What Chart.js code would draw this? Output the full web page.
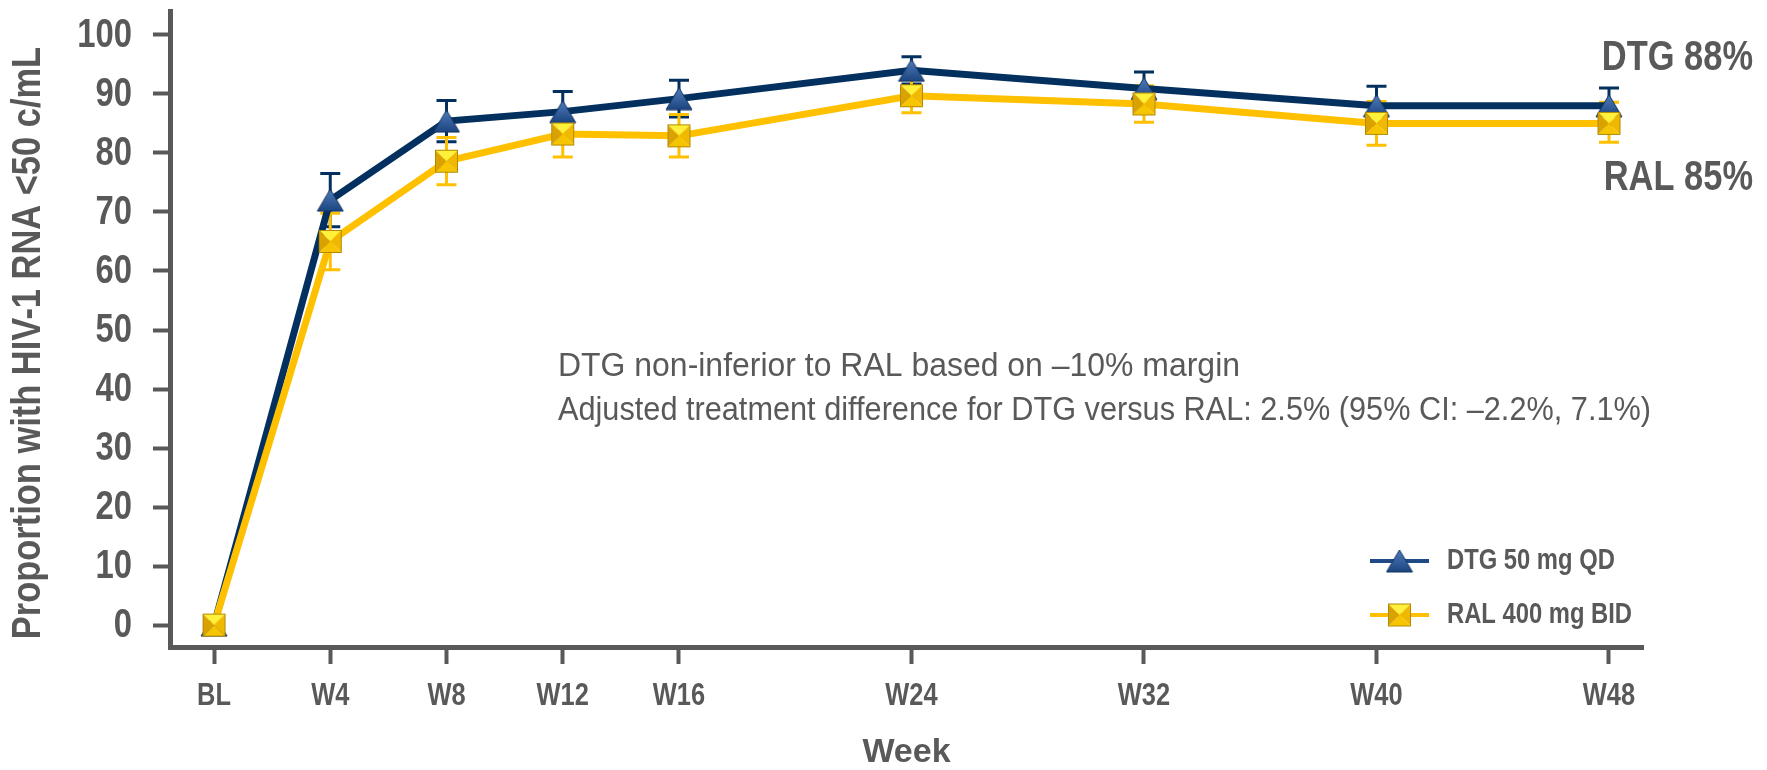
<!DOCTYPE html>
<html>
<head>
<meta charset="utf-8">
<script src="https://cdn.jsdelivr.net/npm/chart.js@4.4.1/dist/chart.umd.min.js"></script>
<style>
  html, body { margin: 0; padding: 0; background: #ffffff; }
  #wrap { width: 1767px; height: 770px; }
</style>
</head>
<body>
<div id="wrap"><canvas id="chart" width="1767" height="770"></canvas></div>
<script>
// Study visits (weeks from baseline) and their axis labels
const weeks = [0, 4, 8, 12, 16, 24, 32, 40, 48];
const weekLabels = ['BL', 'W4', 'W8', 'W12', 'W16', 'W24', 'W32', 'W40', 'W48'];
const yTickValues = [0, 10, 20, 30, 40, 50, 60, 70, 80, 90, 100];

// Proportion with HIV-1 RNA <50 c/mL (%), with 95% CI bounds
const dtgValues = [0, 72, 85.4, 87, 89.2, 94, 90.9, 88, 88];
const dtgLower  = [0, 67.5, 81.9, 83.6, 86.1, 91.7, 88.1, 84.7, 84.8];
const dtgUpper  = [0, 76.5, 88.9, 90.4, 92.3, 96.3, 93.7, 91.3, 91.0];

const ralValues = [0, 65, 78.6, 83.2, 82.9, 89.7, 88.3, 85, 85];
const ralLower  = [0, 60.2, 74.6, 79.3, 79.3, 86.8, 85.2, 81.3, 81.8];
const ralUpper  = [0, 69.8, 82.6, 87.1, 86.5, 92.6, 91.4, 88.7, 88.6];

const seriesNames = ['DTG 50 mg QD', 'RAL 400 mg BID'];
const endLabels = ['DTG 88%', 'RAL 85%'];
const noteLines = [
  'DTG non-inferior to RAL based on \u201310% margin',
  'Adjusted treatment difference for DTG versus RAL: 2.5% (95% CI: \u20132.2%, 7.1%)'
];

const GREY = '#595959';
const NAVY = '#04305f';
const GOLD = '#ffc000';
const SANS = '"Liberation Sans", Arial, sans-serif';
const NARROW_X = 0.82;   // horizontal squeeze giving a condensed face

// Condensed text: draws str squeezed horizontally around its anchor
function narrowText(ctx, str, x, y, font, align, sx) {
  ctx.save();
  ctx.font = font;
  ctx.textAlign = align;
  ctx.textBaseline = 'middle';
  ctx.translate(x, y);
  ctx.scale(sx, 1);
  ctx.fillText(str, 0, 0);
  ctx.restore();
}

// Shaded triangle marker
function makeTriangle() {
  const c = document.createElement('canvas');
  c.width = 28; c.height = 24;
  const g = c.getContext('2d');
  const grad = g.createLinearGradient(0, 1, 0, 23);
  grad.addColorStop(0, '#4f7dbb');
  grad.addColorStop(1, '#1c4580');
  g.beginPath();
  g.moveTo(14, 1); g.lineTo(27, 23); g.lineTo(1, 23); g.closePath();
  g.fillStyle = grad; g.fill();
  g.lineWidth = 1; g.strokeStyle = '#12335f'; g.stroke();
  return c;
}

// Bevelled square marker
function makeSquare() {
  const c = document.createElement('canvas');
  c.width = 25; c.height = 25;
  const g = c.getContext('2d');
  const a = 1, b = 24, m = 12.5;
  const tri = (pts, col) => {
    g.beginPath(); g.moveTo(pts[0][0], pts[0][1]);
    for (let i = 1; i < pts.length; i++) g.lineTo(pts[i][0], pts[i][1]);
    g.closePath(); g.fillStyle = col; g.fill();
  };
  tri([[a, a], [b, a], [m, m]], '#fff03a');
  tri([[b, a], [b, b], [m, m]], '#f0b800');
  tri([[b, b], [a, b], [m, m]], '#f6c500');
  tri([[a, b], [a, a], [m, m]], '#d9a200');
  g.lineWidth = 1; g.strokeStyle = '#b58a00';
  g.strokeRect(a + 0.5, a + 0.5, b - a - 1, b - a - 1);
  return c;
}

const triMarker = makeTriangle();
const sqMarker = makeSquare();

const toPoints = vals => weeks.map((w, i) => ({ x: w, y: vals[i] }));

// Confidence-interval whiskers, drawn under the lines and markers
const errorBars = {
  id: 'errorBars',
  beforeDatasetsDraw(chart) {
    const { ctx, scales: { x, y } } = chart;
    const sets = [
      { lo: dtgLower, hi: dtgUpper, color: NAVY },
      { lo: ralLower, hi: ralUpper, color: GOLD }
    ];
    ctx.save();
    ctx.lineWidth = 3;
    sets.forEach(s => {
      ctx.strokeStyle = s.color;
      weeks.forEach((w, i) => {
        if (s.hi[i] === s.lo[i]) return;
        const px = x.getPixelForValue(w);
        const y1 = y.getPixelForValue(s.lo[i]);
        const y2 = y.getPixelForValue(s.hi[i]);
        ctx.beginPath();
        ctx.moveTo(px, y1); ctx.lineTo(px, y2);
        ctx.moveTo(px - 10, y1); ctx.lineTo(px + 10, y1);
        ctx.moveTo(px - 10, y2); ctx.lineTo(px + 10, y2);
        ctx.stroke();
      });
    });
    ctx.restore();
  }
};

// Tick labels, axis title, notes, end labels and legend
const overlay = {
  id: 'overlay',
  afterDraw(chart) {
    const { ctx, scales: { x, y } } = chart;
    ctx.save();
    ctx.fillStyle = GREY;

    // axis tick labels
    x.ticks.forEach(t => {
      const lbl = weekLabels[weeks.indexOf(t.value)];
      narrowText(ctx, lbl, x.getPixelForValue(t.value), 696, 'bold 31px ' + SANS, 'center', NARROW_X);
    });
    y.ticks.forEach(t => {
      narrowText(ctx, String(t.value), 132, y.getPixelForValue(t.value) + 1, 'bold 40px ' + SANS, 'right', NARROW_X);
    });

    // vertical axis title
    ctx.save();
    ctx.translate(29, 343);
    ctx.rotate(-Math.PI / 2);
    narrowText(ctx, 'Proportion with HIV-1 RNA <50 c/mL', 0, 0, 'bold 41px ' + SANS, 'center', 0.84);
    ctx.restore();

    // notes, each line fitted to its measured extent
    const noteFont = '34px ' + SANS;
    ctx.font = noteFont;
    const noteWidths = [682, 1093];
    const noteY = [367, 411];
    noteLines.forEach((ln, i) => {
      const sx = noteWidths[i] / ctx.measureText(ln).width;
      narrowText(ctx, ln, 558, noteY[i], noteFont, 'left', sx);
      ctx.font = noteFont;
    });

    // end-of-study labels
    narrowText(ctx, endLabels[0], 1753, 58, 'bold 42px ' + SANS, 'right', NARROW_X);
    narrowText(ctx, endLabels[1], 1753, 178, 'bold 42px ' + SANS, 'right', NARROW_X);

    // legend
    const items = [
      { name: seriesNames[0], color: '#1f4a85', marker: triMarker, y: 561 },
      { name: seriesNames[1], color: GOLD, marker: sqMarker, y: 615 }
    ];
    items.forEach(it => {
      ctx.strokeStyle = it.color;
      ctx.lineWidth = 4;
      ctx.beginPath();
      ctx.moveTo(1370, it.y); ctx.lineTo(1429, it.y);
      ctx.stroke();
      ctx.drawImage(it.marker, 1399.5 - it.marker.width / 2, it.y - it.marker.height / 2);
      narrowText(ctx, it.name, 1447, it.y, 'bold 29px ' + SANS, 'left', NARROW_X);
    });
    ctx.restore();
  }
};

new Chart(document.getElementById('chart'), {
  type: 'line',
  data: {
    datasets: [
      {
        label: seriesNames[1],
        data: toPoints(ralValues),
        borderColor: GOLD,
        borderWidth: 7,
        pointStyle: sqMarker,
        order: 0
      },
      {
        label: seriesNames[0],
        data: toPoints(dtgValues),
        borderColor: NAVY,
        borderWidth: 7,
        pointStyle: triMarker,
        order: 1
      }
    ]
  },
  options: {
    responsive: false,
    animation: false,
    events: [],
    layout: { padding: { top: 8, right: 124, left: 0, bottom: 0 } },
    elements: { line: { tension: 0 } },
    plugins: { legend: { display: false }, tooltip: { enabled: false } },
    scales: {
      x: {
        type: 'linear',
        min: -1.514,
        max: 49.17,
        afterFit(s) { s.height = 123; s.paddingLeft = 0; s.paddingRight = 0; },
        afterBuildTicks(s) { s.ticks = weeks.map(v => ({ value: v })); },
        border: { color: GREY, width: 5 },
        grid: { drawOnChartArea: false, drawTicks: true, tickLength: 17, tickColor: GREY, tickWidth: 4 },
        ticks: { display: false },
        title: {
          display: true,
          text: 'Week',
          color: GREY,
          font: { family: SANS, size: 34, weight: 'bold', lineHeight: 1 },
          padding: { top: 0, bottom: 0 }
        }
      },
      y: {
        min: -3.71,
        max: 104.05,
        afterFit(s) { s.width = 170; s.paddingTop = 0; s.paddingBottom = 0; },
        afterBuildTicks(s) { s.ticks = yTickValues.map(v => ({ value: v })); },
        border: { color: GREY, width: 5 },
        grid: { drawOnChartArea: false, drawTicks: true, tickLength: 17, tickColor: GREY, tickWidth: 4 },
        ticks: { display: false }
      }
    }
  },
  plugins: [errorBars, overlay]
});
</script>
</body>
</html>
